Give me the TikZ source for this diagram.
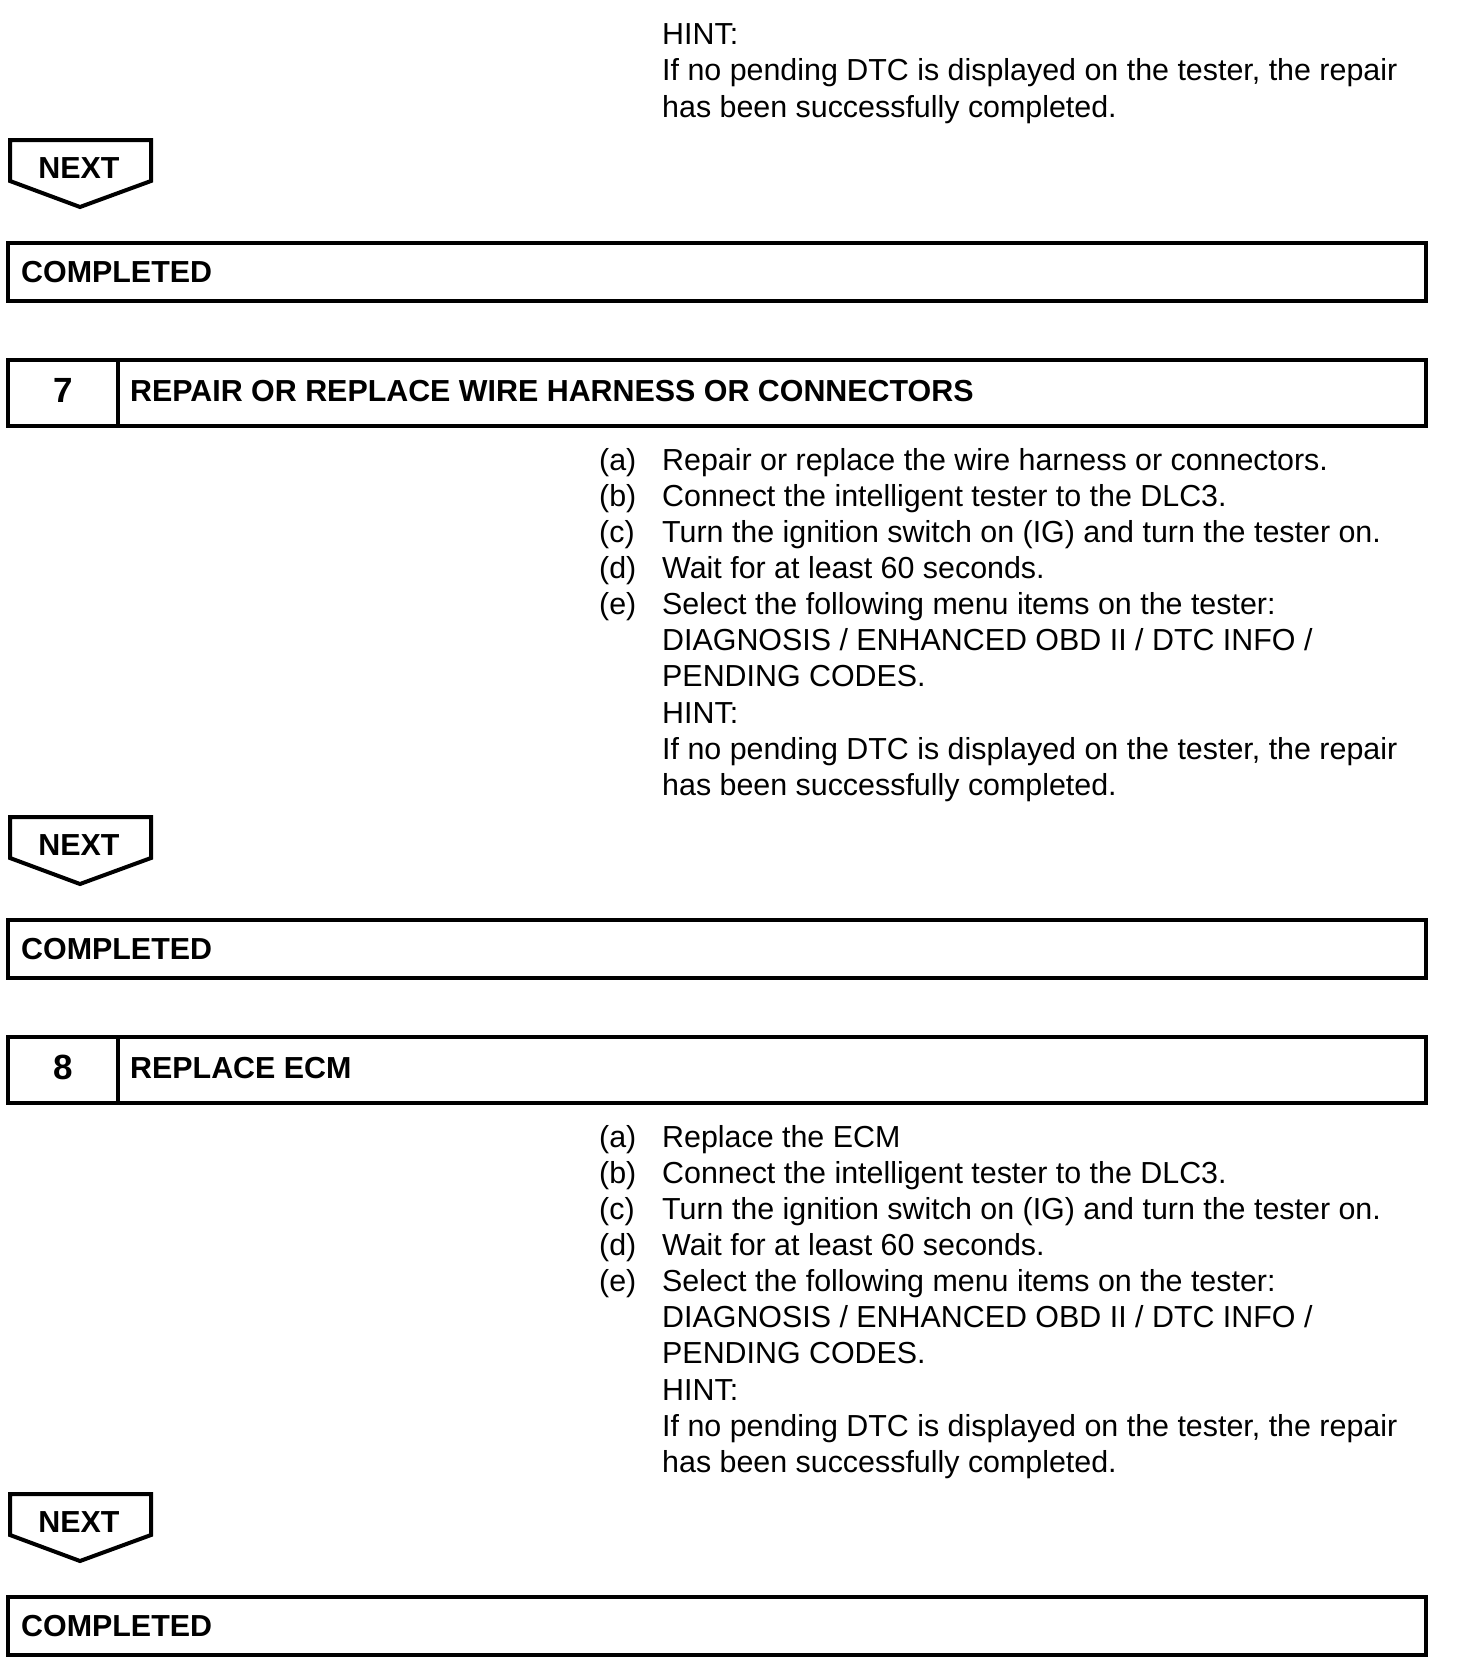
\documentclass[tikz,border=0pt]{standalone}
\usepackage{fontspec}
\setmainfont{Liberation Sans}
\tikzset{
  frame/.style={line width=4pt, line join=miter},
  body/.style={anchor=base west, inner sep=0pt, font=\fontsize{30.4}{36}\selectfont},
  boldtext/.style={anchor=base west, inner sep=0pt, font=\fontsize{30.4}{36}\selectfont\bfseries},
  numtext/.style={anchor=base, inner sep=0pt, font=\fontsize{35}{40}\selectfont\bfseries},
}
\newcommand\drawnext[2]{%
  \begin{scope}[shift={(0,#1)}]
    \draw[frame] (10,140) -- (151,140) -- (151,181) -- (80,207) -- (10,181) -- cycle;
    \node[boldtext, anchor=base] (next#2) at (79,178) {NEXT};
  \end{scope}}
\newcommand\drawdone[2]{%
  \begin{scope}[shift={(0,#1)}]
    \draw[frame] (8,243) rectangle (1426,301);
    \node[boldtext] (done#2) at (21,282) {COMPLETED};
  \end{scope}}
\newcommand\drawstep[5]{%
  \begin{scope}[shift={(0,#1)}]
    \draw[frame] (8,360) rectangle (1426,426);
    \draw[frame] (118,360) -- (118,426);
    \node[numtext] (num#2) at (63,402) {#3};
    \node[boldtext] (title#2) at (130,401) {#4};
    \node[body] (la#2) at (599,470) {(a)};
    \node[body] (ta#2) at (662,470) {#5};
    \node[body] (lb#2) at (599,506.15) {(b)};
    \node[body] (tb#2) at (662,506.15) {Connect the intelligent tester to the DLC3.};
    \node[body] (lc#2) at (599,542.3) {(c)};
    \node[body] (tc#2) at (662,542.3) {Turn the ignition switch on (IG) and turn the tester on.};
    \node[body] (ld#2) at (599,578.45) {(d)};
    \node[body] (td#2) at (662,578.45) {Wait for at least 60 seconds.};
    \node[body] (le#2) at (599,614.6) {(e)};
    \node[body] (te#2) at (662,614.6) {Select the following menu items on the tester:};
    \node[body] (tf#2) at (662,650.75) {DIAGNOSIS / ENHANCED OBD II / DTC INFO /};
    \node[body] (tg#2) at (662,686.9) {PENDING CODES.};
    \node[body] (th#2) at (662,723.05) {HINT:};
    \node[body] (ti#2) at (662,759.2) {If no pending DTC is displayed on the tester, the repair};
    \node[body] (tj#2) at (662,795.35) {has been successfully completed.};
  \end{scope}}
\begin{document}
\begin{tikzpicture}[x=1pt, y=-1pt]
  \useasboundingbox (0,0) rectangle (1456,1678);
  % top continuation
  \node[body] (hint6) at (662,45) {HINT:};
  \node[body] (hintA6) at (662,81) {If no pending DTC is displayed on the tester, the repair};
  \node[body] (hintB6) at (662,117) {has been successfully completed.};
  \drawnext{0}{6}
  \drawdone{0}{6}
  \drawstep{0}{7}{7}{REPAIR OR REPLACE WIRE HARNESS OR CONNECTORS}{Repair or replace the wire harness or connectors.}
  \drawnext{677}{7}
  \drawdone{677}{7}
  \drawstep{677}{8}{8}{REPLACE ECM}{Replace the ECM}
  \drawnext{1354}{8}
  \drawdone{1354}{8}
\end{tikzpicture}
\end{document}
